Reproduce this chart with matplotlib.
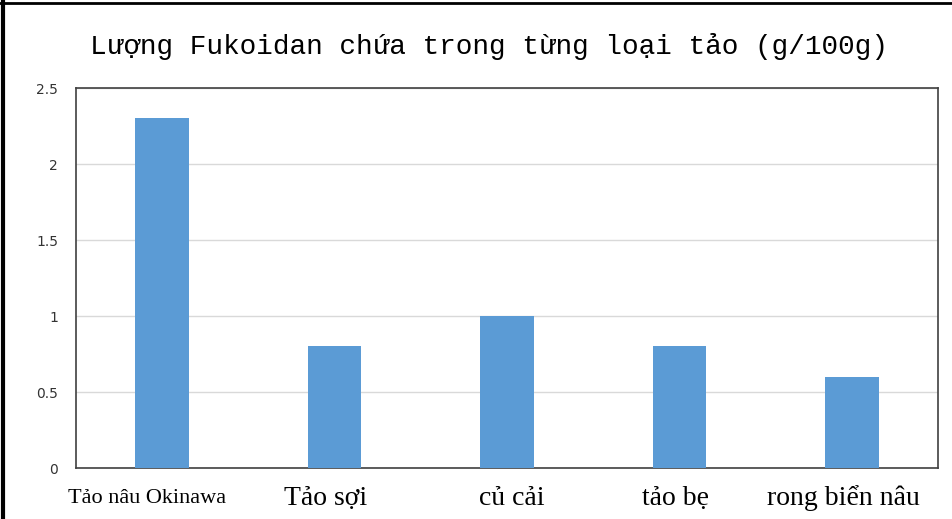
import matplotlib
matplotlib.use("Agg")
import matplotlib.pyplot as plt
import numpy as np

categories = ["Tảo nâu Okinawa", "Tảo sợi", "củ cải", "tảo bẹ", "rong biển nâu"]
values = [2.3, 0.8, 1.0, 0.8, 0.6]
yticks = [0, 0.5, 1, 1.5, 2, 2.5]
ytick_labels = ["0", "0.5", "1", "1.5", "2", "2.5"]
label_sizes = [16, 20, 20, 20, 20]
label_shift = [-0.09, -0.05, 0.03, -0.02, -0.05]

BAR = "#5B9BD5"

fig = plt.figure(figsize=(9.53, 5.19), dpi=100)
ax = fig.add_axes([76 / 953, 1 - 468 / 519, 862 / 953, 380 / 519])

x = np.arange(len(categories))
ax.bar(x, values, width=0.31, color=BAR, zorder=3)
ax.set_xlim(-0.5, len(categories) - 0.5)
ax.set_ylim(0, 2.5)
ax.set_yticks(yticks)
ax.set_yticklabels(ytick_labels, fontsize=10, color="#333333")
ax.grid(axis="y", color="#d9d9d9", linewidth=1, zorder=0)
ax.tick_params(axis="y", length=0, pad=13)
ax.set_xticks([])
for s in ax.spines.values():
    s.set_color("#404040")
    s.set_linewidth(1.2)

for xi, cat, fs, dx in zip(x, categories, label_sizes, label_shift):
    ax.text(xi + dx, -0.2, cat, ha="center", va="center", fontsize=fs,
            family="Liberation Serif", clip_on=False)

fig.text(0.513, 1 - 47 / 519, "Lượng Fukoidan chứa trong từng loại tảo (g/100g)",
         ha="center", va="center", fontsize=20, family="Liberation Mono")

# frame border at left and top
fig.add_artist(plt.Line2D([3.5 / 953, 3.5 / 953], [0, 1], transform=fig.transFigure,
                          color="black", linewidth=3))
fig.add_artist(plt.Line2D([0, 1], [1 - 3 / 519, 1 - 3 / 519], transform=fig.transFigure,
                          color="black", linewidth=2))

plt.savefig("out.png", dpi=100)
plt.close()
